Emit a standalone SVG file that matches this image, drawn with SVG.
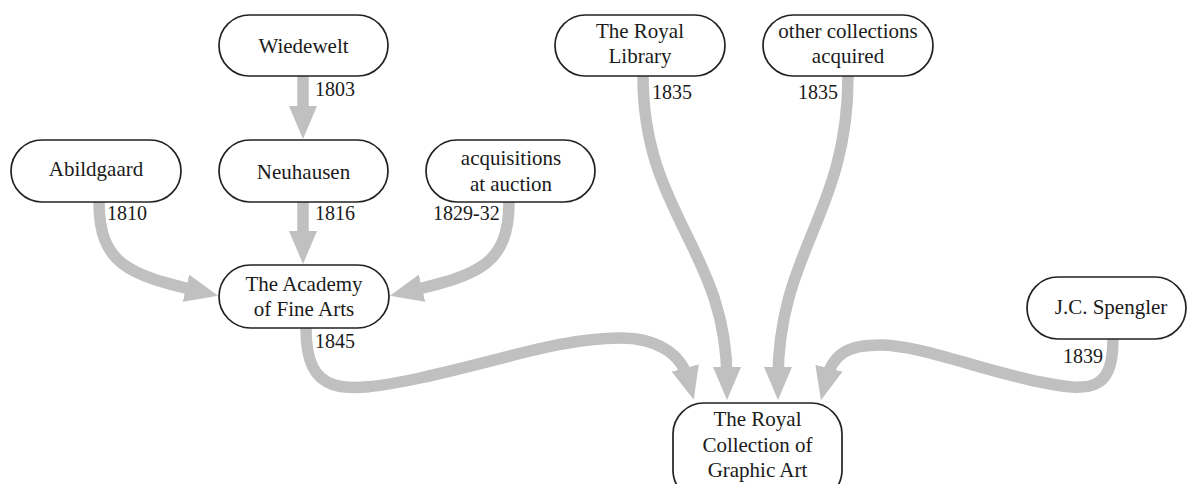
<svg xmlns="http://www.w3.org/2000/svg" width="1188" height="484" viewBox="0 0 1188 484">
<style>
.box{fill:#fff;stroke:#222;stroke-width:1.7}
.t{font-family:"Liberation Serif","Times New Roman",serif;font-size:21px;fill:#1a1a1a;text-anchor:middle}
.y{font-family:"Liberation Serif","Times New Roman",serif;font-size:20px;fill:#1a1a1a}
.e{fill:none;stroke:#c0c0c0;stroke-width:11.5;marker-end:url(#ah)}
</style>
<defs>
<marker id="ah" markerUnits="userSpaceOnUse" viewBox="0 0 33 28" markerWidth="33" markerHeight="28" refX="13" refY="14" orient="auto">
<path d="M0,0 L33,14 L0,28 Z" fill="#c0c0c0"/>
</marker>
</defs>
<rect width="1188" height="484" fill="#fff"/>
<g id="edges">
<path class="e" d="M303,76 L303,119"/>
<path class="e" d="M303,202 L303,244"/>
<path class="e" d="M99,202 C99,265 130,275 198.6,291.2"/>
<path class="e" d="M509,202 C509,265 478,275 409.4,291.2"/>
<path class="e" d="M643,76 C643,215 727,250 727,380"/>
<path class="e" d="M848,76 C848,215 778,250 778,380"/>
<path class="e" d="M306,328 C306,395 340,395 420,378 C500,361 560,338 620,338 C655,338 681,352 688.6,380.5"/>
<path class="e" d="M1113,339 C1113,392 1090,392 1040,382 C980,370 920,345 880,345 C850,345 833,352 825.8,380.8"/>
</g>
<g id="labels">
<text class="y" x="315" y="96">1803</text>
<text class="y" x="315" y="220">1816</text>
<text class="y" x="107" y="220">1810</text>
<text class="y" x="433" y="220">1829-32</text>
<text class="y" x="652" y="99">1835</text>
<text class="y" x="798" y="99">1835</text>
<text class="y" x="315" y="348">1845</text>
<text class="y" x="1063" y="363">1839</text>
</g>
<g id="wiedewelt"><rect class="box" x="219" y="15" width="169" height="61" rx="30.5"/><text class="t" x="303.5" y="53">Wiedewelt</text></g>
<g id="abildgaard"><rect class="box" x="11" y="140" width="170" height="62" rx="31"/><text class="t" x="96" y="176">Abildgaard</text></g>
<g id="neuhausen"><rect class="box" x="219" y="140" width="169" height="62" rx="31"/><text class="t" x="303.5" y="179">Neuhausen</text></g>
<g id="auction"><rect class="box" x="426" y="140" width="169" height="62" rx="31"/><text class="t" x="511" y="165">acquisitions</text><text class="t" x="511" y="191">at auction</text></g>
<g id="academy"><rect class="box" x="219" y="265" width="170" height="63" rx="31.5"/><text class="t" x="304" y="291">The Academy</text><text class="t" x="304" y="316">of Fine Arts</text></g>
<g id="library"><rect class="box" x="555" y="15" width="170" height="61" rx="30.5"/><text class="t" x="640" y="38">The Royal</text><text class="t" x="640" y="63">Library</text></g>
<g id="other"><rect class="box" x="763" y="15" width="170" height="61" rx="30.5"/><text class="t" x="848" y="38">other collections</text><text class="t" x="848" y="63">acquired</text></g>
<g id="spengler"><rect class="box" x="1027" y="277" width="159" height="62" rx="31"/><text class="t" x="1111" y="314">J.C. Spengler</text></g>
<g id="royal"><rect class="box" x="673" y="403" width="169" height="98" rx="31"/><text class="t" x="757.5" y="426">The Royal</text><text class="t" x="757.5" y="452">Collection of</text><text class="t" x="757.5" y="477">Graphic Art</text></g>
</svg>
